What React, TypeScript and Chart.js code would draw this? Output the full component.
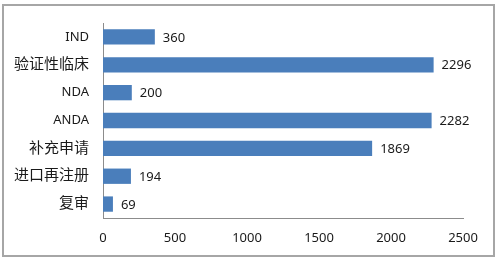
import React, { useEffect, useRef } from "react";
import { Chart, registerables } from "chart.js";

Chart.register(...registerables);

const categories = ["IND", "验证性临床", "NDA", "ANDA", "补充申请", "进口再注册", "复审"];
const values = [360, 2296, 200, 2282, 1869, 194, 69];
const xTicks = [0, 500, 1000, 1500, 2000, 2500];

const FONT = "'Noto Sans', 'Noto Sans CJK SC', sans-serif";

const framePlugin = {
  id: "frame",
  beforeDraw(chart: any) {
    const ctx = chart.ctx;
    ctx.save();
    ctx.fillStyle = "#ffffff";
    ctx.fillRect(0, 0, chart.width, chart.height);
    ctx.strokeStyle = "#a6a6a6";
    ctx.lineWidth = 2;
    ctx.strokeRect(3, 5, 491, 251);
    ctx.restore();
  },
};

const labelPlugin = {
  id: "barLabels",
  afterDatasetsDraw(chart: any) {
    const ctx = chart.ctx;
    const meta = chart.getDatasetMeta(0);
    ctx.save();
    ctx.font = `13px ${FONT}`;
    ctx.fillStyle = "#1a1a1a";
    ctx.textAlign = "left";
    ctx.textBaseline = "middle";
    meta.data.forEach((bar: any, i: number) => {
      ctx.fillText(String(values[i]), bar.x + 8, bar.y + 1);
    });
    ctx.restore();
  },
};

const isLatin = (s: string) => /^[A-Za-z]+$/.test(s);

export default function App() {
  const ref = useRef<HTMLCanvasElement | null>(null);
  useEffect(() => {
    if (!ref.current) return;
    const chart = new Chart(ref.current, {
      type: "bar",
      data: {
        labels: categories,
        datasets: [
          {
            data: values,
            backgroundColor: "#4a7ebb",
            borderWidth: 0,
            barPercentage: 0.55,
            categoryPercentage: 1,
          },
        ],
      },
      options: {
        indexAxis: "y",
        animation: false,
        responsive: false,
        maintainAspectRatio: false,
        layout: { padding: { top: 21, right: 37, left: 0, bottom: 0 } },
        plugins: { legend: { display: false }, tooltip: { enabled: false } },
        scales: {
          x: {
            min: 0,
            max: 2500,
            afterBuildTicks: (scale: any) => {
              scale.ticks = xTicks.map((v) => ({ value: v }));
            },
            afterFit: (scale: any) => {
              scale.height = 44;
            },
            grid: { display: false, drawTicks: false },
            border: { display: true, color: "#8c8c8c", width: 1 },
            ticks: {
              padding: 12,
              color: "#1a1a1a",
              font: { family: FONT, size: 13 },
              callback: (v: any) => String(v),
            },
          },
          y: {
            afterFit: (scale: any) => {
              scale.width = 103;
            },
            grid: { display: false, drawTicks: false },
            border: { display: true, color: "#8c8c8c", width: 1 },
            ticks: {
              padding: 14,
              color: "#1a1a1a",
              font: (c: any) => {
                const lbl = categories[c.index] || "";
                return { family: FONT, size: isLatin(lbl) ? 13 : 15 };
              },
            },
          },
        },
      },
      plugins: [framePlugin, labelPlugin],
    });
    return () => chart.destroy();
  }, []);
  return (
    <div style={{ position: "fixed", left: 0, top: 0, width: 500, height: 262, background: "#fff" }}>
      <canvas ref={ref} width={500} height={262} style={{ width: 500, height: 262 }} />
    </div>
  );
}
